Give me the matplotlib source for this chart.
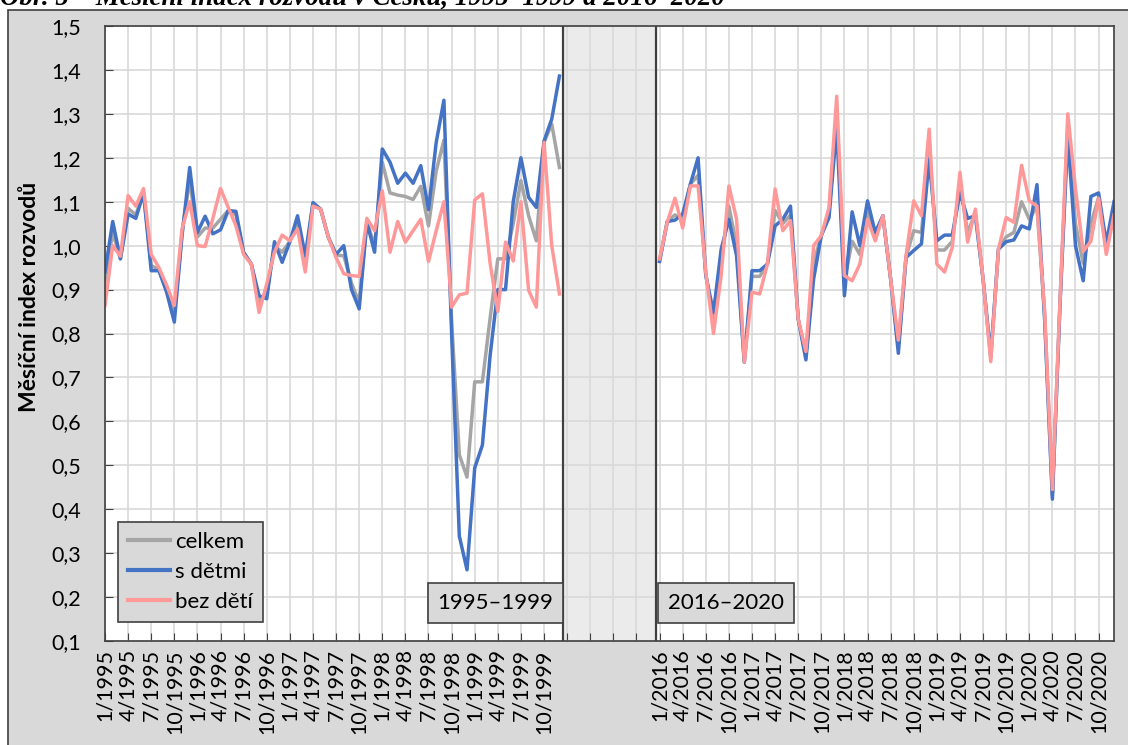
import numpy as np
import matplotlib.pyplot as plt
from matplotlib.patches import Rectangle
from matplotlib.lines import Line2D

plt.rcParams['font.family'] = ['Lato', 'DejaVu Sans']

# --- data: monthly divorce index ---
# 1995-1999, months 1/1995 .. 12/1999
celkem_9599 = [0.92, 1.03, 0.97, 1.085, 1.07, 1.12, 0.955, 0.945, 0.90, 0.84, 1.03, 1.15,
               1.02, 1.04, 1.04, 1.06, 1.08, 1.07, 0.983, 0.958, 0.87, 0.893, 1.00, 0.985,
               1.01, 1.055, 0.965, 1.095, 1.083, 1.019, 0.978, 0.977, 0.915, 0.87, 1.055, 1.00,
               1.19, 1.12, 1.115, 1.112, 1.105, 1.135, 1.045, 1.17, 1.24, 0.83, 0.524, 0.473,
               0.69, 0.69, 0.835, 0.97, 0.97, 1.05, 1.148, 1.068, 1.011, 1.235, 1.277, 1.178]
sdetmi_9599 = [0.94, 1.055, 0.97, 1.072, 1.062, 1.12, 0.943, 0.943, 0.894, 0.826, 1.023, 1.178,
               1.03, 1.067, 1.027, 1.036, 1.08, 1.078, 0.985, 0.958, 0.886, 0.879, 1.009, 0.962,
               1.009, 1.068, 0.977, 1.098, 1.083, 1.019, 0.98, 1.00, 0.90, 0.856, 1.053, 0.985,
               1.22, 1.19, 1.142, 1.165, 1.142, 1.182, 1.082, 1.235, 1.331, 0.80, 0.339, 0.262,
               0.494, 0.546, 0.75, 0.90, 0.90, 1.10, 1.20, 1.11, 1.087, 1.238, 1.288, 1.386]
bezdeti_9599 = [0.864, 1.00, 0.976, 1.114, 1.09, 1.13, 0.98, 0.95, 0.91, 0.864, 1.038, 1.10,
                1.00, 0.998, 1.062, 1.13, 1.087, 1.045, 0.98, 0.958, 0.848, 0.913, 0.985, 1.024,
                1.011, 1.038, 0.94, 1.09, 1.083, 1.019, 0.973, 0.936, 0.932, 0.93, 1.062, 1.034,
                1.125, 0.985, 1.055, 1.008, 1.034, 1.06, 0.964, 1.034, 1.10, 0.86, 0.888, 0.892,
                1.104, 1.118, 0.96, 0.85, 1.008, 0.965, 1.10, 0.898, 0.86, 1.235, 1.00, 0.89]

# 2016-2020, months 1/2016 .. 12/2020
celkem_1620 = [0.965, 1.055, 1.07, 1.06, 1.14, 1.16, 0.935, 0.83, 0.96, 1.09, 1.00, 0.735,
               0.93, 0.93, 0.958, 1.08, 1.05, 1.07, 0.833, 0.75, 0.96, 1.023, 1.075, 1.30,
               0.92, 1.01, 0.98, 1.075, 1.02, 1.068, 0.924, 0.77, 0.975, 1.034, 1.03, 1.22,
               0.99, 0.99, 1.01, 1.14, 1.03, 1.075, 0.924, 0.745, 0.992, 1.02, 1.03, 1.10,
               1.06, 1.09, 0.84, 0.43, 0.875, 1.28, 1.05, 0.96, 1.05, 1.11, 0.99, 1.08]
sdetmi_1620 = [0.964, 1.055, 1.058, 1.072, 1.14, 1.20, 0.932, 0.848, 0.992, 1.06, 0.977, 0.735,
               0.943, 0.943, 0.958, 1.045, 1.06, 1.09, 0.833, 0.74, 0.924, 1.023, 1.064, 1.27,
               0.886, 1.077, 1.00, 1.102, 1.03, 1.068, 0.924, 0.755, 0.973, 0.989, 1.004, 1.197,
               1.011, 1.024, 1.024, 1.12, 1.062, 1.068, 0.924, 0.75, 0.992, 1.009, 1.013, 1.045,
               1.038, 1.139, 0.83, 0.423, 0.87, 1.25, 1.00, 0.92, 1.112, 1.12, 1.006, 1.10]
bezdeti_1620 = [0.97, 1.053, 1.108, 1.04, 1.136, 1.136, 0.94, 0.80, 0.932, 1.136, 1.06, 0.735,
                0.894, 0.89, 0.958, 1.129, 1.034, 1.057, 0.833, 0.759, 1.00, 1.023, 1.087, 1.34,
                0.932, 0.92, 0.958, 1.06, 1.011, 1.068, 0.924, 0.785, 0.977, 1.102, 1.068, 1.265,
                0.958, 0.94, 0.996, 1.167, 1.008, 1.083, 0.924, 0.736, 0.992, 1.064, 1.053, 1.183,
                1.102, 1.09, 0.85, 0.445, 0.88, 1.30, 1.13, 0.987, 1.01, 1.108, 0.98, 1.07]

labels_9599 = ['1/1995', '4/1995', '7/1995', '10/1995', '1/1996', '4/1996', '7/1996', '10/1996',
               '1/1997', '4/1997', '7/1997', '10/1997', '1/1998', '4/1998', '7/1998', '10/1998',
               '1/1999', '4/1999', '7/1999', '10/1999']
labels_1620 = ['1/2016', '4/2016', '7/2016', '10/2016', '1/2017', '4/2017', '7/2017', '10/2017',
               '1/2018', '4/2018', '7/2018', '10/2018', '1/2019', '4/2019', '7/2019', '10/2019',
               '1/2020', '4/2020', '7/2020', '10/2020']
gap_months = 12   # prázdné kategorie mezi obdobími

# --- positions ---
x1 = np.arange(len(sdetmi_9599))
x2 = np.arange(len(sdetmi_1620)) + len(sdetmi_9599) + gap_months
n_total = len(sdetmi_9599) + gap_months + len(sdetmi_1620)

W, H = 1128, 745
fig = plt.figure(figsize=(W / 100, H / 100), dpi=100)
fig.patch.set_facecolor('white')
bg = Rectangle((8 / W, -0.01), 1.0, (H - 10) / H + 0.01, transform=fig.transFigure,
               fc='#d9d9d9', ec='#404040', lw=1.2, zorder=-1)
fig.add_artist(bg)

# nadpis je v originále nahoře oříznutý
fig.text(0, (H - 5) / H, 'Obr. 5 – Měsíční index rozvodů v Česku, 1995–1999 a 2016–2020',
         family='Liberation Serif', style='italic', weight='bold', fontsize=19.4,
         ha='left', va='baseline')

ax = fig.add_axes([105 / W, (H - 641) / H, (1114 - 105) / W, (641 - 26) / H])
ax.set_zorder(2)
ax.set_facecolor('white')

c_grey, c_blue, c_pink = '#a5a5a5', '#4472c4', '#ff9999'
lw = 2.5
ax.plot(x1, celkem_9599, color=c_grey, lw=lw, zorder=3)
ax.plot(x2, celkem_1620, color=c_grey, lw=lw, zorder=3)
ax.plot(x1, sdetmi_9599, color=c_blue, lw=lw, zorder=4)
ax.plot(x2, sdetmi_1620, color=c_blue, lw=lw, zorder=4)
ax.plot(x1, bezdeti_9599, color=c_pink, lw=lw, zorder=5)
ax.plot(x2, bezdeti_1620, color=c_pink, lw=lw, zorder=5)

# šedý pruh mezi obdobími
g0 = len(sdetmi_9599) - 0.5
g1 = len(sdetmi_9599) + gap_months - 0.5
ax.axvspan(g0, g1, color='#ebebeb', zorder=1)
ax.axvline(g0, color='#404040', lw=1.6, zorder=6)
ax.axvline(g1, color='#404040', lw=1.6, zorder=6)

ax.set_xlim(0, n_total - 1)
ax.set_ylim(0.1, 1.5)

ticks = np.arange(0, n_total, 3)
ax.set_xticks(ticks)
tick_labels = labels_9599 + [''] * (gap_months // 3) + labels_1620
ax.set_xticklabels(tick_labels, rotation=90, fontsize=15.5)
ax.set_yticks(np.arange(0.1, 1.51, 0.1))
ax.set_yticklabels([f"{v:.1f}".replace('.', ',') for v in np.arange(0.1, 1.51, 0.1)], fontsize=15.5)
ax.tick_params(axis='both', direction='in', length=6, color='#404040')
ax.tick_params(axis='x', pad=6)
ax.tick_params(axis='y', pad=17)
ax.grid(True, color='#d9d9d9', lw=1.2)
for gl in ax.get_xgridlines() + ax.get_ygridlines():
    gl.set_zorder(2)
for s in ax.spines.values():
    s.set_color('#404040')
    s.set_linewidth(1.2)
    s.set_zorder(7)

fig.text(30 / W, (H - 297) / H, 'Měsíční index rozvodů', rotation=90, fontsize=16.5,
         weight='bold', ha='center', va='center')

# popisky období
box = dict(boxstyle='square,pad=0.45', fc='#d9d9d9', ec='#404040', lw=1.2)
ax.text(50.7, 0.1865, '1995–1999', fontsize=16, ha='center', va='center', bbox=box, zorder=8)
ax.text(80.6, 0.1865, '2016–2020', fontsize=16, ha='center', va='center', bbox=box, zorder=8)

handles = [Line2D([], [], color=c_grey, lw=3), Line2D([], [], color=c_blue, lw=3),
           Line2D([], [], color=c_pink, lw=3)]
leg = ax.legend(handles, ['celkem', 's dětmi', 'bez dětí'], loc='lower left',
                bbox_to_anchor=(0.0129, 0.031), fontsize=16, frameon=True, fancybox=False,
                handlelength=1.9, handletextpad=0.2, labelspacing=0.45, borderpad=0.45,
                borderaxespad=0)
leg.get_frame().set_facecolor('#d9d9d9')
leg.get_frame().set_edgecolor('#404040')
leg.get_frame().set_linewidth(1.2)
leg.get_frame().set_alpha(1)
leg.set_zorder(8)

fig.savefig('out.png', dpi=100, facecolor=fig.get_facecolor())
